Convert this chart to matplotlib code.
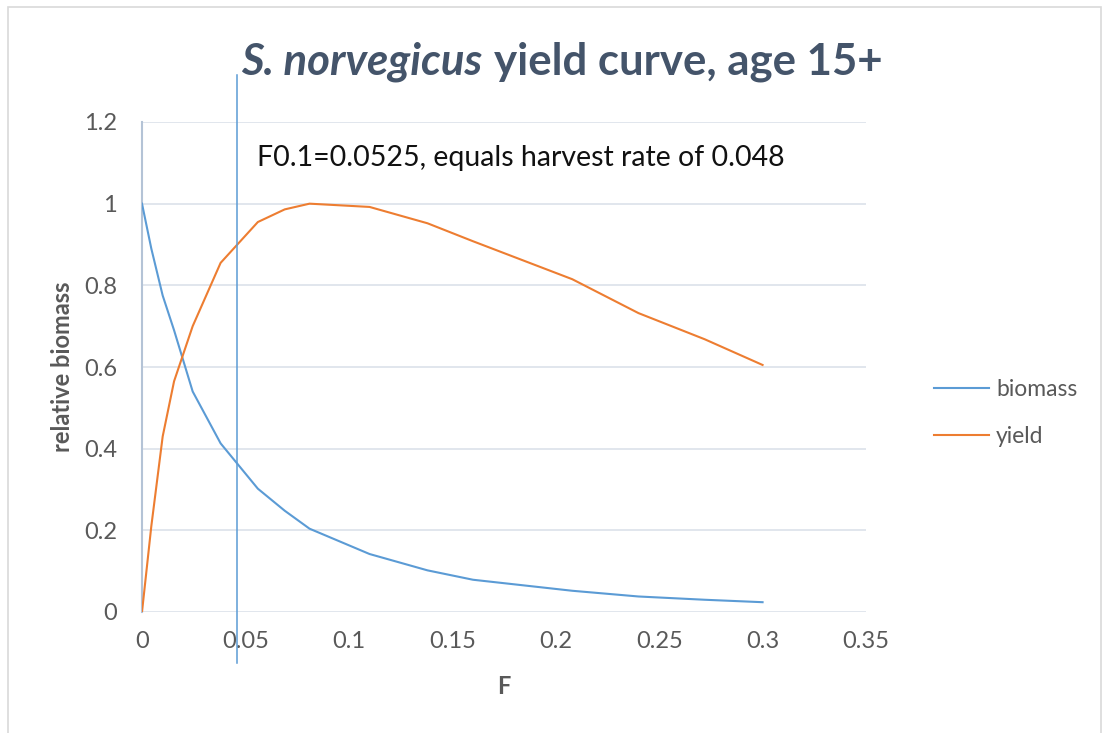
import matplotlib
matplotlib.use('Agg')
import matplotlib.pyplot as plt
from matplotlib.patches import Rectangle

plt.rcParams['font.family'] = ['Lato', 'DejaVu Sans']

# datos
F = [0, 0.0045, 0.010, 0.0155, 0.0245, 0.038, 0.056, 0.069, 0.081,
     0.110, 0.138, 0.160, 0.208, 0.240, 0.272, 0.300]
biomass = [1.0, 0.89, 0.775, 0.69, 0.54, 0.413, 0.302, 0.248, 0.204,
           0.142, 0.102, 0.079, 0.052, 0.038, 0.030, 0.024]
yield_ = [0.0, 0.21, 0.43, 0.565, 0.70, 0.855, 0.955, 0.986, 1.0,
          0.992, 0.952, 0.908, 0.815, 0.732, 0.668, 0.605]
f_line = 0.046
x_ticks = [0, 0.05, 0.1, 0.15, 0.2, 0.25, 0.3, 0.35]
x_labels = ['0', '0.05', '0.1', '0.15', '0.2', '0.25', '0.3', '0.35']
y_ticks = [0, 0.2, 0.4, 0.6, 0.8, 1.0, 1.2]
y_labels = ['0', '0.2', '0.4', '0.6', '0.8', '1', '1.2']

W, H = 1105, 733
fig = plt.figure(figsize=(W / 100, H / 100), dpi=100)
ax = fig.add_axes([142 / W, 1 - 612 / H, (866 - 142) / W, (612 - 122) / H])

# marco del area del grafico
fig.patches.append(Rectangle((8 / W, -0.05), (1101 - 8) / W, 1 - 7 / H + 0.05,
                             transform=fig.transFigure, fill=False,
                             edgecolor='#D9D9D9', linewidth=1.2))

c_blue = '#5B9BD5'
c_orange = '#ED7D31'
txt = '#595959'

ax.plot(F, biomass, color=c_blue, lw=1.5, label='biomass', zorder=3)
ax.plot(F, yield_, color=c_orange, lw=1.5, label='yield', zorder=3)
ax.axvline(f_line, ymin=-0.104, ymax=1.095, color=c_blue, lw=1.1,
           clip_on=False, zorder=4)

ax.set_xlim(0, 0.35)
ax.set_ylim(0, 1.2)
ax.set_xticks(x_ticks)
ax.set_xticklabels(x_labels)
ax.set_yticks(y_ticks)
ax.set_yticklabels(y_labels)
ax.tick_params(length=0, labelsize=17, labelcolor=txt)
ax.tick_params(axis='x', pad=14)
ax.tick_params(axis='y', pad=18)
ax.grid(axis='y', color='#DCE1EA', lw=1.2)
ax.set_axisbelow(True)
for s in ['top', 'right', 'bottom']:
    ax.spines[s].set_visible(False)
ax.spines['left'].set_color('#B4C3D6')
ax.spines['left'].set_linewidth(1.5)

ax.set_xlabel('F', fontsize=17, color=txt, fontweight='bold', labelpad=16)
ax.set_ylabel('relative biomass', fontsize=17, color=txt, fontweight='bold', labelpad=7)

ax.text(0.0555, 1.113, 'F0.1=0.0525, equals harvest rate of 0.048',
        fontsize=20.5, color='#111111', va='center', ha='left')

ax.legend(loc='center left', bbox_to_anchor=(1.065, 0.406), frameon=False,
          fontsize=16.5, labelcolor=txt, handlelength=2.4, handletextpad=0.33,
          labelspacing=1.15)

# titulo con parte en cursiva
t1 = fig.text(241 / W, 1 - 62 / H, 'S. norvegicus', fontsize=31.5, fontweight='bold',
              style='italic', color='#44546A', va='center', ha='left')
fig.canvas.draw()
bb = t1.get_window_extent()
fig.text(bb.x1 / W + 12 / W, 1 - 62 / H, 'yield curve, age 15+', fontsize=31.5,
         fontweight='bold', color='#44546A', va='center', ha='left')

plt.savefig('out.png', dpi=100)
plt.close('all')
